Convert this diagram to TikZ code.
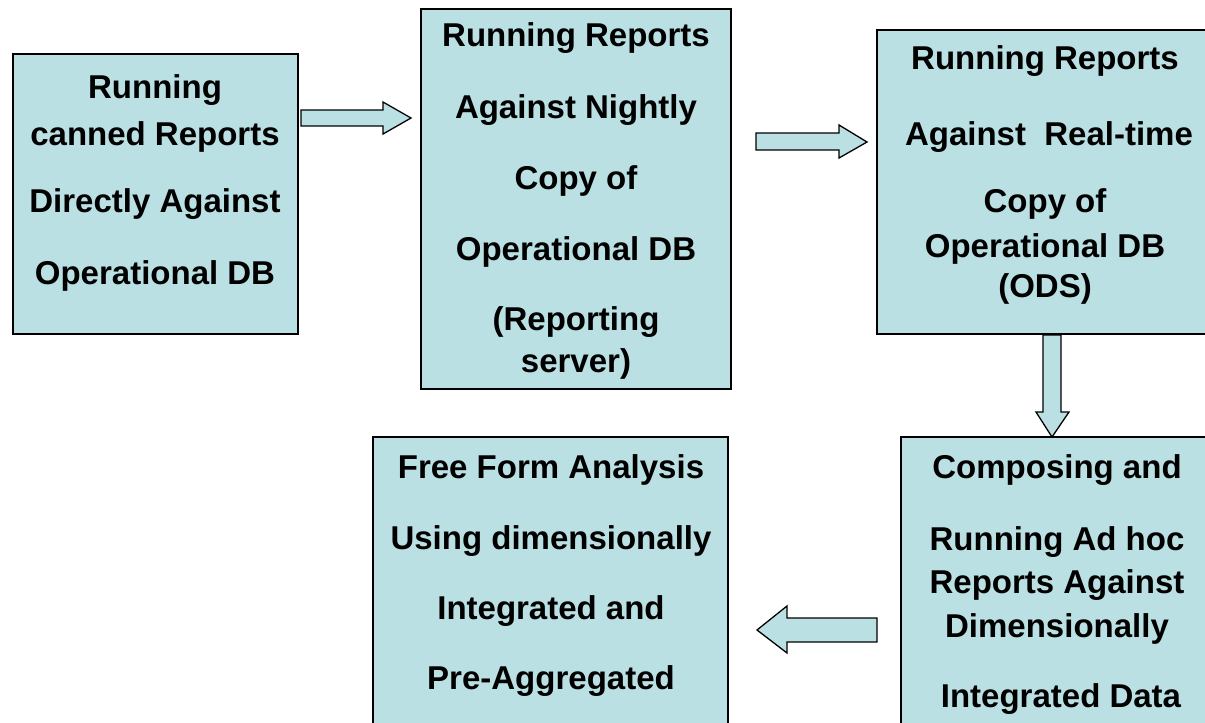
\documentclass[tikz,border=0pt]{standalone}
\usepackage{fontspec}
\setmainfont{Liberation Sans}
\definecolor{boxfill}{RGB}{186,224,227}
\begin{document}
\begin{tikzpicture}[x=1pt,y=-1pt,
  box/.style={draw=black,line width=1.6pt,fill=boxfill},
  txt/.style={anchor=base,inner sep=0pt,font=\fontsize{33}{36}\selectfont\bfseries},
  fatarrow/.style={draw=black,line width=1.3pt,fill=boxfill,line join=miter}]
\useasboundingbox (0,0) rectangle (1205,723);
% boxes
\path[box] (13,54) rectangle (298,334);
\path[box] (421,9) rectangle (731,389);
\path[box] (877,30) rectangle (1212,334);
\path[box] (901,437) rectangle (1212,735);
\path[box] (373,437) rectangle (728,735);
% box 1 text
\node[txt] at (155,98) {Running};
\node[txt] at (155,145) {canned Reports};
\node[txt] at (155,212) {Directly Against};
\node[txt] at (155,284) {Operational DB};
% box 2 text
\node[txt] at (576,46) {Running Reports};
\node[txt] at (576,118) {Against Nightly};
\node[txt] at (576,189) {Copy of};
\node[txt] at (576,260) {Operational DB};
\node[txt] at (576,330) {(Reporting};
\node[txt] at (576,372) {server)};
% box 3 text
\node[txt] at (1045,69) {Running Reports};
\node[txt] at (1049,145) {Against\ \ Real-time};
\node[txt] at (1045,212) {Copy of};
\node[txt] at (1045,257) {Operational DB};
\node[txt] at (1045,297) {(ODS)};
% box 4 text
\node[txt] at (1057,478) {Composing and};
\node[txt] at (1057,550) {Running Ad hoc};
\node[txt] at (1057,593) {Reports Against};
\node[txt] at (1057,637) {Dimensionally};
\node[txt] at (1061,707) {Integrated Data};
% box 5 text
\node[txt] at (551,478) {Free Form Analysis};
\node[txt] at (551,549) {Using dimensionally};
\node[txt] at (551,619) {Integrated and};
\node[txt] at (551,689) {Pre-Aggregated};
% arrows
\draw[fatarrow] (301,110) -- (383,110) -- (383,102) -- (411,118) -- (383,134) -- (383,126) -- (301,126) -- cycle;
\draw[fatarrow] (756,133) -- (839,133) -- (839,125) -- (867,142) -- (839,158) -- (839,150) -- (756,150) -- cycle;
\draw[fatarrow] (1043,335) -- (1061,335) -- (1061,412) -- (1069,412) -- (1052,437) -- (1036,412) -- (1043,412) -- cycle;
\draw[fatarrow] (877,618) -- (787,618) -- (787,606) -- (757,630) -- (787,653) -- (787,642) -- (877,642) -- cycle;
\end{tikzpicture}
\end{document}
